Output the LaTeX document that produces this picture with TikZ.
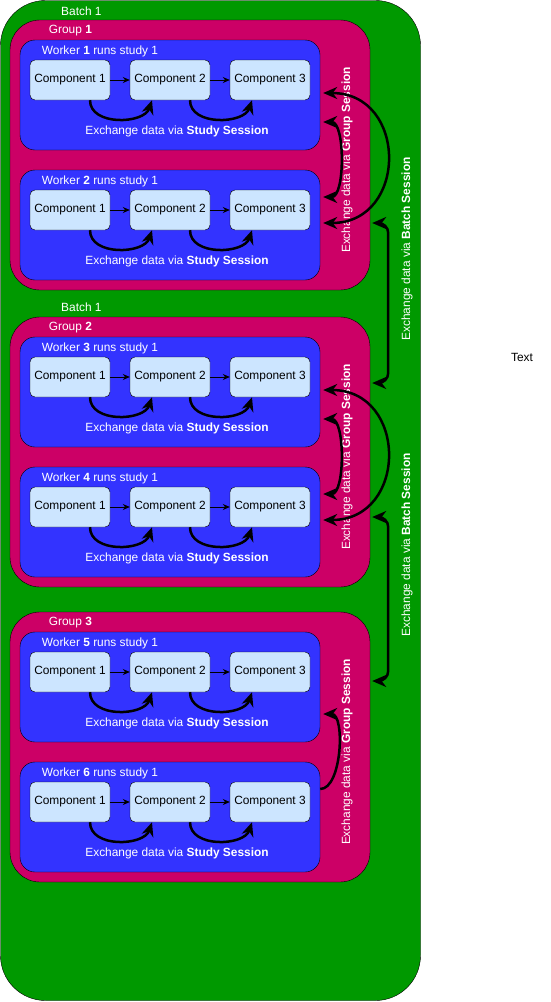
\documentclass[tikz,border=0pt]{standalone}
\usepackage{fontspec}
\setmainfont{Liberation Sans}
\usetikzlibrary{arrows.meta}
\definecolor{batchgreen}{HTML}{009900}
\definecolor{groupred}{HTML}{CC0066}
\definecolor{workerblue}{HTML}{3333FF}
\definecolor{compblue}{HTML}{CCE5FF}
\tikzset{
  batchbox/.style={draw=black, fill=batchgreen, rounded corners=45pt, minimum width=420pt, minimum height=1000pt},
  groupbox/.style={draw=black, fill=groupred, rounded corners=30pt, minimum width=360pt, minimum height=270pt},
  workerbox/.style={draw=black, fill=workerblue, rounded corners=15pt, minimum width=300pt, minimum height=110pt},
  compbox/.style={draw=black, fill=compblue, rounded corners=5pt, minimum width=80pt, minimum height=40pt, inner sep=0pt},
  whitelabel/.style={text=white, inner sep=0pt},
  flow/.style={-{Stealth[length=7pt,width=6pt]}, line width=0.8pt},
  studylink/.style={-{Stealth[length=14pt,width=12pt,inset=4.5pt]}, line width=2.5pt},
  grouplink/.style={{Stealth[length=14pt,width=12pt,inset=4.5pt]}-{Stealth[length=14pt,width=12pt,inset=4.5pt]}, line width=2.5pt},
}
\begin{document}
\begin{tikzpicture}[x=1pt, y=-1pt, font=\fontsize{11.9pt}{14pt}\selectfont]
\useasboundingbox (0,0) rectangle (550,1002);

\node[batchbox] (batch) at (210.5,500.5) {};
\node[whitelabel, anchor=west] (batchlabel1) at (61,11) {Batch 1};
\node[whitelabel, anchor=west] (batchlabel2) at (61,307) {Batch 1};

% groups
\foreach \g/\gy in {1/155, 2/452, 3/747} {
  \node[groupbox] (g\g) at (190,\gy) {};
  \node[whitelabel, anchor=west] (glabel\g) at (48.7,\gy-124) {Group \textbf{\g}};
  \node[whitelabel, rotate=90] (gtext\g) at (347,\gy+5) {Exchange data via \textbf{Group Session}};
}

% workers
\foreach \w/\wy in {1/40, 2/170, 3/337, 4/467, 5/632, 6/762} {
  \node[workerbox] (w\w) at (170,\wy+55) {};
  \node[whitelabel, anchor=west] (wlabel\w) at (41.7,\wy+11) {Worker \textbf{\w} runs study 1};
  \node[compbox] (c\w1) at (70,\wy+40) {Component 1};
  \node[compbox] (c\w2) at (170,\wy+40) {Component 2};
  \node[compbox] (c\w3) at (270,\wy+40) {Component 3};
  \draw[flow] (c\w1) -- (c\w2);
  \draw[flow] (c\w2) -- (c\w3);
  \draw[studylink] ([xshift=20pt]c\w1.south) .. controls +(0,26) and +(-8,24) .. ([xshift=-18pt]c\w2.south);
  \draw[studylink] ([xshift=20pt]c\w2.south) .. controls +(0,26) and +(-8,24) .. ([xshift=-18pt]c\w3.south);
  \node[whitelabel] (wtext\w) at (177,\wy+91) {Exchange data via \textbf{Study Session}};
}

\node[whitelabel, rotate=90] (btext1) at (407,249) {Exchange data via \textbf{Batch Session}};
\node[whitelabel, rotate=90] (btext2) at (407,545) {Exchange data via \textbf{Batch Session}};

\draw[grouplink] ([xshift=3pt,yshift=2pt]w1.east) .. controls +(85,0) and +(85,0) .. ([xshift=3pt,yshift=2pt]w2.east);
\draw[grouplink] ([xshift=3pt,yshift=-27pt]w1.east) .. controls +(22,0) and +(22,0) .. ([xshift=3pt,yshift=28pt]w2.east);
\draw[grouplink] ([xshift=3pt,yshift=2pt]w3.east) .. controls +(85,0) and +(85,0) .. ([xshift=3pt,yshift=2pt]w4.east);
\draw[grouplink] ([xshift=3pt,yshift=-27pt]w3.east) .. controls +(22,0) and +(22,0) .. ([xshift=3pt,yshift=28pt]w4.east);
\draw[studylink] ([yshift=28pt]w6.east) .. controls +(22,0) and +(22,0) .. ([xshift=3pt,yshift=-27pt]w5.east);

\draw[grouplink, rounded corners=10pt] ([xshift=2pt,yshift=-68pt]g1.east) -- ++(16,0) |- ([xshift=2pt,yshift=69pt]g2.east);
\draw[grouplink, rounded corners=10pt] ([xshift=2pt,yshift=-65pt]g2.east) -- ++(16,0) |- ([xshift=2pt,yshift=66pt]g3.east);

\node (note) at (522,357) {Text};
\end{tikzpicture}
\end{document}
